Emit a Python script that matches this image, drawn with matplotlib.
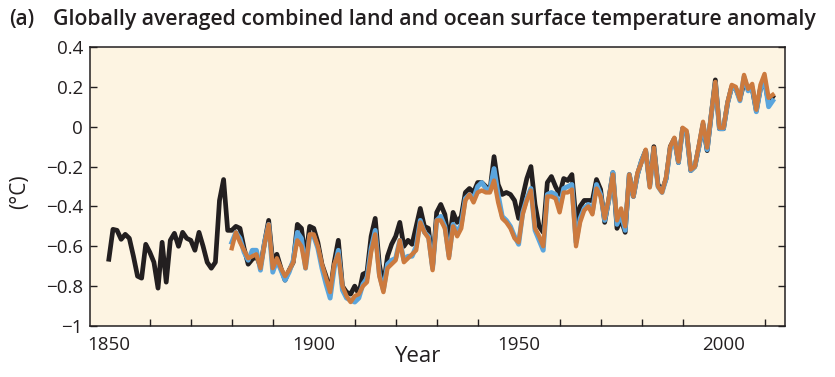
import matplotlib
matplotlib.use("Agg")
import matplotlib.pyplot as plt
import numpy as np

# ---------------- data ----------------
black_start = 1850
black_vals = [
    -0.665, -0.515, -0.52, -0.565, -0.54, -0.56, -0.65, -0.75, -0.76, -0.59,   # 1850-1859
    -0.63, -0.68, -0.81, -0.58, -0.78, -0.57, -0.535, -0.60, -0.53, -0.56,      # 1860-1869
    -0.57, -0.62, -0.53, -0.60, -0.68, -0.71, -0.68, -0.37, -0.265, -0.52,      # 1870-1879
    -0.52, -0.50, -0.51, -0.61, -0.69, -0.665, -0.65, -0.70, -0.58, -0.47,      # 1880-1889
    -0.68, -0.64, -0.71, -0.77, -0.72, -0.68, -0.49, -0.51, -0.665, -0.50,      # 1890-1899
    -0.51, -0.58, -0.69, -0.75, -0.83, -0.68, -0.57, -0.80, -0.83, -0.84,       # 1900-1909
    -0.80, -0.84, -0.74, -0.73, -0.55, -0.46, -0.69, -0.80, -0.65, -0.59,       # 1910-1919
    -0.55, -0.48, -0.60, -0.57, -0.59, -0.50, -0.41, -0.50, -0.51, -0.70,       # 1920-1929
    -0.43, -0.39, -0.44, -0.58, -0.43, -0.48, -0.45, -0.33, -0.31, -0.33,       # 1930-1939
    -0.28, -0.28, -0.30, -0.32, -0.15, -0.29, -0.34, -0.33, -0.34, -0.37,       # 1940-1949
    -0.46, -0.35, -0.26, -0.20, -0.39, -0.50, -0.53, -0.28, -0.25, -0.30,       # 1950-1959
    -0.34, -0.26, -0.27, -0.24, -0.47, -0.40, -0.37, -0.37, -0.37, -0.265,      # 1960-1969
    -0.315, -0.48, -0.365, -0.23, -0.51, -0.465, -0.53, -0.24, -0.35, -0.24,    # 1970-1979
    -0.17, -0.12, -0.29, -0.10, -0.29, -0.32, -0.26, -0.10, -0.06, -0.18,       # 1980-1989
    -0.01, -0.03, -0.22, -0.20, -0.10, 0.01, -0.12, 0.06, 0.235, -0.01,         # 1990-1999
    -0.01, 0.12, 0.20, 0.19, 0.14, 0.22, 0.19, 0.19, 0.08, 0.19,                # 2000-2009
    0.23, 0.12, 0.15,                                                           # 2010-2012
]

other_start = 1880
orange_vals = [
    -0.61, -0.53, -0.58, -0.62, -0.66, -0.65, -0.64, -0.71, -0.59, -0.49,       # 1880-1889
    -0.71, -0.66, -0.71, -0.75, -0.72, -0.68, -0.57, -0.60, -0.71, -0.54,       # 1890-1899
    -0.54, -0.60, -0.69, -0.76, -0.83, -0.69, -0.64, -0.80, -0.85, -0.88,       # 1900-1909
    -0.85, -0.84, -0.80, -0.78, -0.63, -0.54, -0.75, -0.83, -0.71, -0.69,       # 1910-1919
    -0.67, -0.57, -0.68, -0.66, -0.64, -0.62, -0.48, -0.53, -0.56, -0.72,       # 1920-1929
    -0.47, -0.47, -0.51, -0.66, -0.50, -0.55, -0.51, -0.37, -0.34, -0.38,       # 1930-1939
    -0.33, -0.32, -0.33, -0.33, -0.27, -0.38, -0.46, -0.48, -0.51, -0.56,       # 1940-1949
    -0.58, -0.44, -0.37, -0.32, -0.51, -0.55, -0.60, -0.35, -0.35, -0.36,       # 1950-1959
    -0.43, -0.33, -0.33, -0.315, -0.60, -0.48, -0.42, -0.40, -0.44, -0.31,      # 1960-1969
    -0.35, -0.46, -0.36, -0.24, -0.47, -0.41, -0.50, -0.24, -0.35, -0.23,       # 1970-1979
    -0.18, -0.115, -0.305, -0.105, -0.30, -0.33, -0.25, -0.10, -0.055, -0.175,  # 1980-1989
    -0.005, -0.02, -0.215, -0.20, -0.09, 0.025, -0.105, 0.065, 0.225, -0.005,   # 1990-1999
    -0.005, 0.125, 0.21, 0.20, 0.135, 0.26, 0.19, 0.215, 0.085, 0.21,           # 2000-2009
    0.265, 0.145, 0.16,                                                         # 2010-2012
]

blue_vals = [
    -0.58, -0.53, -0.56, -0.63, -0.67, -0.62, -0.62, -0.72, -0.58, -0.49,       # 1880-1889
    -0.73, -0.67, -0.72, -0.77, -0.73, -0.67, -0.53, -0.56, -0.71, -0.55,       # 1890-1899
    -0.55, -0.61, -0.71, -0.79, -0.86, -0.71, -0.62, -0.82, -0.86, -0.87,       # 1900-1909
    -0.88, -0.86, -0.79, -0.76, -0.61, -0.52, -0.74, -0.82, -0.69, -0.67,       # 1910-1919
    -0.66, -0.57, -0.67, -0.65, -0.65, -0.60, -0.47, -0.53, -0.55, -0.71,       # 1920-1929
    -0.47, -0.45, -0.50, -0.65, -0.49, -0.53, -0.49, -0.36, -0.34, -0.36,       # 1930-1939
    -0.30, -0.28, -0.31, -0.32, -0.21, -0.34, -0.45, -0.47, -0.50, -0.55,       # 1940-1949
    -0.59, -0.43, -0.36, -0.31, -0.52, -0.57, -0.62, -0.34, -0.33, -0.34,       # 1950-1959
    -0.41, -0.31, -0.30, -0.29, -0.58, -0.46, -0.41, -0.39, -0.43, -0.29,       # 1960-1969
    -0.34, -0.47, -0.37, -0.23, -0.49, -0.44, -0.52, -0.24, -0.35, -0.24,       # 1970-1979
    -0.17, -0.12, -0.30, -0.11, -0.30, -0.33, -0.26, -0.11, -0.06, -0.18,       # 1980-1989
    -0.01, -0.03, -0.22, -0.20, -0.10, 0.015, -0.115, 0.06, 0.22, -0.01,        # 1990-1999
    -0.01, 0.12, 0.20, 0.19, 0.13, 0.25, 0.18, 0.20, 0.075, 0.19,               # 2000-2009
    0.24, 0.10, 0.13,                                                           # 2010-2012
]

x_major_ticks = [1850, 1900, 1950, 2000]
x_minor_ticks = list(range(1850, 2011, 10))
y_ticks = [0.4, 0.2, 0, -0.2, -0.4, -0.6, -0.8, -1]
y_tick_labels = ["0.4", "0.2", "0", "\u22120.2", "\u22120.4", "\u22120.6", "\u22120.8", "\u22121"]

title_tag = "(a)"
title_text = "Globally averaged combined land and ocean surface temperature anomaly"
y_label = "(\u00b0C)"
x_label = "Year"

# ---------------- styling ----------------
BG = "#FDF4E2"
INK = "#231F20"
BLUE = "#5AA5DD"
ORANGE = "#CC7A3E"
FONT = ["Open Sans", "DejaVu Sans"]

plt.rcParams["font.family"] = FONT

W, H, DPI = 835, 377, 100
fig = plt.figure(figsize=(W / DPI, H / DPI), dpi=DPI)
fig.patch.set_facecolor("white")

ax_l, ax_r, ax_t, ax_b = 90, 785, 47, 326
ax = fig.add_axes([ax_l / W, 1 - ax_b / H, (ax_r - ax_l) / W, (ax_b - ax_t) / H])
ax.set_facecolor(BG)

yb = np.arange(black_start, black_start + len(black_vals))
yo = np.arange(other_start, other_start + len(orange_vals))

ax.plot(yb, black_vals, color=INK, lw=3.4, solid_joinstyle="round", zorder=3)
ax.plot(yo, blue_vals, color=BLUE, lw=3.5, solid_joinstyle="round", zorder=4)
ax.plot(yo, orange_vals, color=ORANGE, lw=3.1, solid_joinstyle="round", zorder=5)

ax.set_xlim(1845.4, 2015.0)
ax.set_ylim(-1.0, 0.4)

ax.set_xticks(x_major_ticks)
ax.set_xticks(x_minor_ticks, minor=True)
ax.set_yticks(y_ticks)
ax.set_yticklabels(y_tick_labels)

for side in ["top", "bottom", "left", "right"]:
    ax.spines[side].set_color(INK)
    ax.spines[side].set_linewidth(1.1)

ax.tick_params(axis="both", which="both", direction="in", color=INK, width=1.0,
               labelcolor=INK, labelsize=13.5)
ax.tick_params(axis="x", which="major", length=0, pad=7)
ax.tick_params(axis="x", which="minor", length=5, bottom=True, top=False)
ax.tick_params(axis="y", which="major", length=5, left=True, right=True, pad=5)

ax.set_xlabel(x_label, fontsize=16, color=INK, labelpad=-1)
ax.xaxis.set_label_coords((417 - ax_l) / (ax_r - ax_l), -(357 - ax_b) / (ax_b - ax_t))
ax.set_ylabel(y_label, fontsize=15, color=INK)
ax.yaxis.set_label_coords(-(90 - 20) / (ax_r - ax_l), (ax_b - 192) / (ax_b - ax_t))
ax.yaxis.label.set_va("center")
ax.xaxis.label.set_va("center")

fig.text(9 / W, 1 - 20 / H, title_tag, fontsize=15, fontweight="semibold", color=INK,
         ha="left", va="center")
t = fig.text(53 / W, 1 - 20 / H, title_text, fontsize=15, fontweight="semibold", color=INK,
             ha="left", va="center")

# fit title width to reference (~765 px)
fig.canvas.draw()
r = fig.canvas.get_renderer()
bb = t.get_window_extent(renderer=r)
t.set_fontsize(15 * 765 / bb.width)

fig.savefig("out.png", dpi=DPI, facecolor="white")
